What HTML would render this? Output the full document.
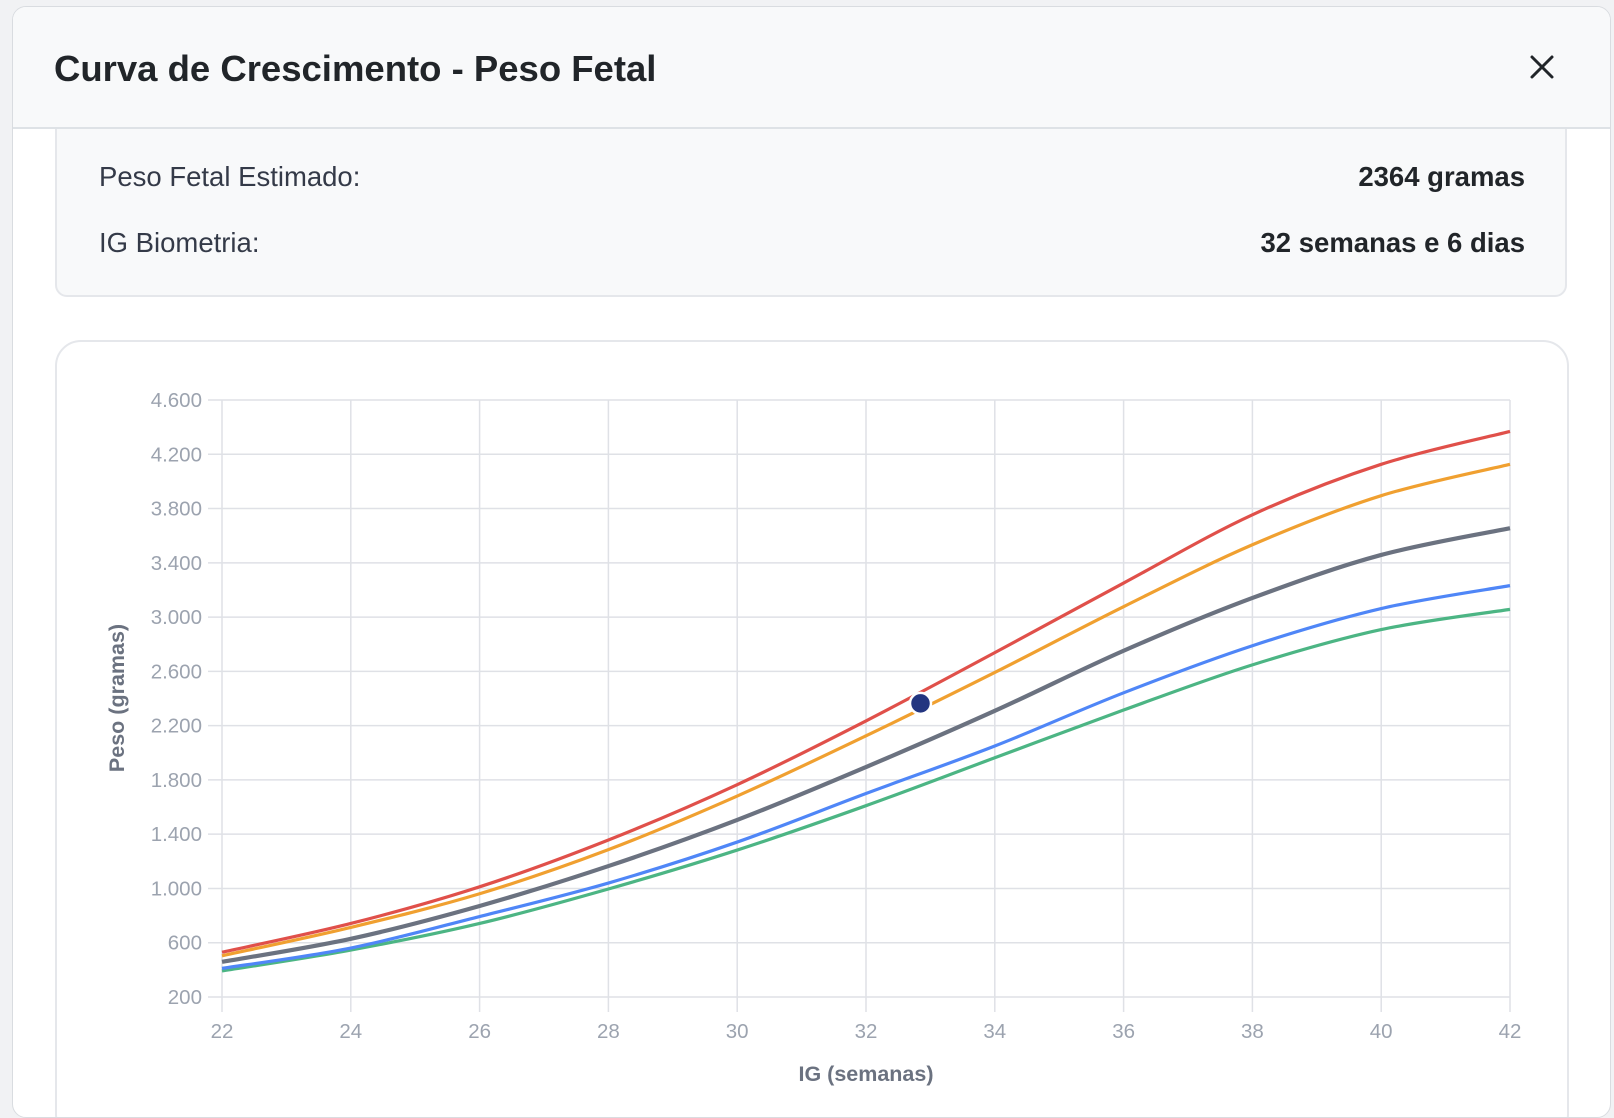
<!DOCTYPE html>
<html><head><meta charset="utf-8">
<style>
html,body{margin:0;padding:0;width:1614px;height:1106px;overflow:hidden;background:#f1f2f4;font-family:"Liberation Sans",Arial,sans-serif;}
.modal{position:absolute;left:12px;top:6px;width:1597px;height:1110px;background:#fff;border:1px solid #d9dce0;border-radius:14px;overflow:hidden;}
.hdr{position:absolute;left:0;top:0;width:100%;height:120px;background:#f8f9fa;border-bottom:2px solid #dee2e6;z-index:2;}
.hdr h1{position:absolute;left:41px;top:47px;margin:0;font-size:36.5px;line-height:30px;font-weight:bold;color:#212529;}
.info{position:absolute;left:42px;top:90px;width:1512px;height:200px;background:#f8f9fa;border:2px solid #e5e7eb;border-radius:12px;box-sizing:border-box;}
.row{position:absolute;left:42px;right:40px;font-size:27.5px;color:#343a48;}
.row b{position:absolute;right:0;top:0;color:#212529;}
.card{position:absolute;left:42px;top:333px;width:1514px;height:800px;border:2px solid #e5e7eb;border-radius:26px;box-sizing:border-box;background:#fff;}
svg{position:absolute;left:0;top:0;}
</style></head><body>
<div class="modal">
  <div class="hdr"><h1>Curva de Crescimento - Peso Fetal</h1>
    <svg viewBox="0 0 30 30" width="30" height="30" style="left:1514px;top:45px;position:absolute"><path d="M5 5L25 25M25 5L5 25" stroke="#212529" stroke-width="3" stroke-linecap="round"/></svg>
  </div>
  <div class="info">
    <div class="row" style="top:62px">Peso Fetal Estimado:<b>2364 gramas</b></div>
    <div class="row" style="top:128px">IG Biometria:<b>32 semanas e 6 dias</b></div>
  </div>
  <div class="card"></div>
</div>
<svg id="c" width="1614" height="1106" font-family="Liberation Sans, Arial, sans-serif"></svg>
<script>
var s=document.getElementById('c'),h='';
function X(w){return 222+(w-22)*64.4}
function Y(v){return 997-(v-200)*0.13568}
for(var v=200;v<=4600;v+=400){var y=Y(v);h+='<line x1="208" x2="1510" y1="'+y+'" y2="'+y+'" stroke="#dfe1e6" stroke-width="1.5"/>';
h+='<text x="202" y="'+(y+7)+'" text-anchor="end" font-size="20.5" fill="#9ca3af">'+(v>=1000?Math.floor(v/1000)+'.'+String(v%1000).padStart(3,'0'):v)+'</text>';}
for(var w=22;w<=42;w+=2){var x=X(w);h+='<line x1="'+x+'" x2="'+x+'" y1="400" y2="1012" stroke="#dfe1e6" stroke-width="1.5"/>';
h+='<text x="'+x+'" y="1038" text-anchor="middle" font-size="20.5" fill="#9ca3af">'+w+'</text>';}
h+='<text x="866" y="1081" text-anchor="middle" font-size="21.5" font-weight="bold" fill="#6b7280">IG (semanas)</text>';
h+='<text transform="translate(124,698) rotate(-90)" text-anchor="middle" font-size="21.5" font-weight="bold" fill="#6b7280">Peso (gramas)</text>';
var W=[22,24,26,28,30,32,34,36,38,40,42];
var S=[
['#4cb584',3.2,[392,546,742,996,1283,1610,1963,2315,2648,2908,3057]],
['#4f86f7',3.2,[411,561,793,1040,1342,1700,2050,2442,2789,3063,3232]],
['#6b7280',4.2,[459,629,871,1165,1505,1895,2309,2752,3141,3458,3655]],
['#f0a030',3.2,[504,713,961,1286,1681,2125,2592,3077,3533,3895,4126]],
['#e0504a',3.2,[530,742,1012,1357,1765,2235,2738,3251,3754,4126,4368]]];
S.forEach(function(sr){var p=W.map(function(w,i){return [X(w),Y(sr[2][i])]});
var d='M'+p[0][0]+' '+p[0][1];
for(var i=0;i<p.length-1;i++){var p0=p[i-1]||p[i],p1=p[i],p2=p[i+1],p3=p[i+2]||p2;
d+=' C'+(p1[0]+(p2[0]-p0[0])/6)+' '+(p1[1]+(p2[1]-p0[1])/6)+' '+(p2[0]-(p3[0]-p1[0])/6)+' '+(p2[1]-(p3[1]-p1[1])/6)+' '+p2[0]+' '+p2[1];}
h+='<path d="'+d+'" fill="none" stroke="'+sr[0]+'" stroke-width="'+sr[1]+'"/>';});
h+='<circle cx="920.5" cy="'+Y(2364)+'" r="10.5" fill="#233580" stroke="#fff" stroke-width="2.5"/>';
s.innerHTML=h;
</script>
</body></html>
